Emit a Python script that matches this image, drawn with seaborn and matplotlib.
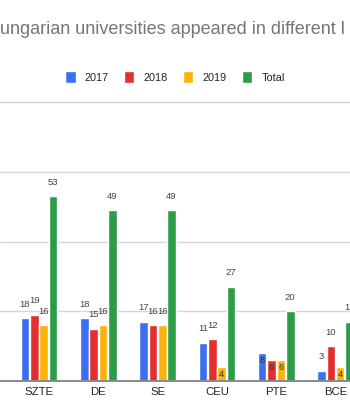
import matplotlib
matplotlib.use("Agg")
import matplotlib.pyplot as plt
import seaborn as sns
import pandas as pd

categories = ["SZTE", "DE", "SE", "CEU", "PTE", "BCE"]
series_names = ["2017", "2018", "2019", "Total"]
v2017 = [18, 18, 17, 11, 8, 3]
v2018 = [19, 15, 16, 12, 6, 10]
v2019 = [16, 16, 16, 4, 6, 4]
vtotal = [53, 49, 49, 27, 20, 17]
title_text = "ungarian universities appeared in different l"
inside_labels = {("CEU", "2019"), ("PTE", "2017"), ("PTE", "2018"), ("PTE", "2019"), ("BCE", "2019")}

colors = ["#3b6ff0", "#e32f2f", "#fbb30a", "#2d9c46"]

rows = []
for name, vals in zip(series_names, [v2017, v2018, v2019, vtotal]):
    for c, v in zip(categories, vals):
        rows.append({"University": c, "Series": name, "Count": v})
df = pd.DataFrame(rows)

sns.set_theme(style="white")
plt.rcParams["font.family"] = ["Liberation Sans", "DejaVu Sans"]

W, H = 350, 420
fig = plt.figure(figsize=(W / 100, H / 100), dpi=100)
ppu = 279 / 80.0
top_val = 81
ax_bottom_px = 381
ax_top_px = ax_bottom_px - top_val * ppu
ax = fig.add_axes([0, (H - ax_bottom_px) / H, 1, (ax_bottom_px - ax_top_px) / H])

sns.barplot(data=df, x="University", y="Count", hue="Series", order=categories,
            hue_order=series_names, palette=colors, width=0.63, gap=0.08,
            saturation=1, ax=ax, legend=True)

ax.set_xlim(-39 / 59.3, (350 - 39) / 59.3)
ax.set_ylim(0, top_val)
ax.set_yticks([20, 40, 60, 80])
ax.yaxis.grid(True, color="#d6d6d6", linewidth=1)
ax.set_axisbelow(True)
ax.set_yticklabels([])
ax.tick_params(axis="y", length=0)
ax.tick_params(axis="x", length=0, pad=4, labelsize=8.2, labelcolor="#222222")
ax.set_xlabel("")
ax.set_ylabel("")
for s in ["top", "left", "right"]:
    ax.spines[s].set_visible(False)
ax.spines["bottom"].set_color("#8a8a8a")
ax.spines["bottom"].set_linewidth(1.4)
ax.spines["bottom"].set_zorder(5)

for cont, sname in zip(ax.containers, series_names):
    for patch, cat, val in zip(cont.patches, categories, df[df.Series == sname].Count):
        xc = patch.get_x() + patch.get_width() / 2
        ytop = patch.get_height()
        if (cat, sname) in inside_labels:
            ax.annotate(str(val), (xc, ytop), xytext=(0, -5.5), textcoords="offset points",
                        ha="center", va="center", fontsize=6.8, color="#333333",
                        annotation_clip=False)
        else:
            ax.annotate(str(val), (xc, ytop), xytext=(0, 10), textcoords="offset points",
                        ha="center", va="center", fontsize=6.8, color="#444444",
                        annotation_clip=False)

handles, labels = ax.get_legend_handles_labels()
ax.get_legend().remove()
fig.legend(handles, labels, loc="center", bbox_to_anchor=(175 / W, 1 - 77 / H), ncol=4,
           frameon=False, fontsize=7.8, handlelength=0.95, handleheight=1.3,
           handletextpad=0.85, columnspacing=1.4, labelcolor="#222222",
           borderaxespad=0, borderpad=0)

fig.text(0.0, 1 - 29 / H, title_text, ha="left", va="center", fontsize=13, color="#757575")

fig.savefig("out.png", dpi=100)
